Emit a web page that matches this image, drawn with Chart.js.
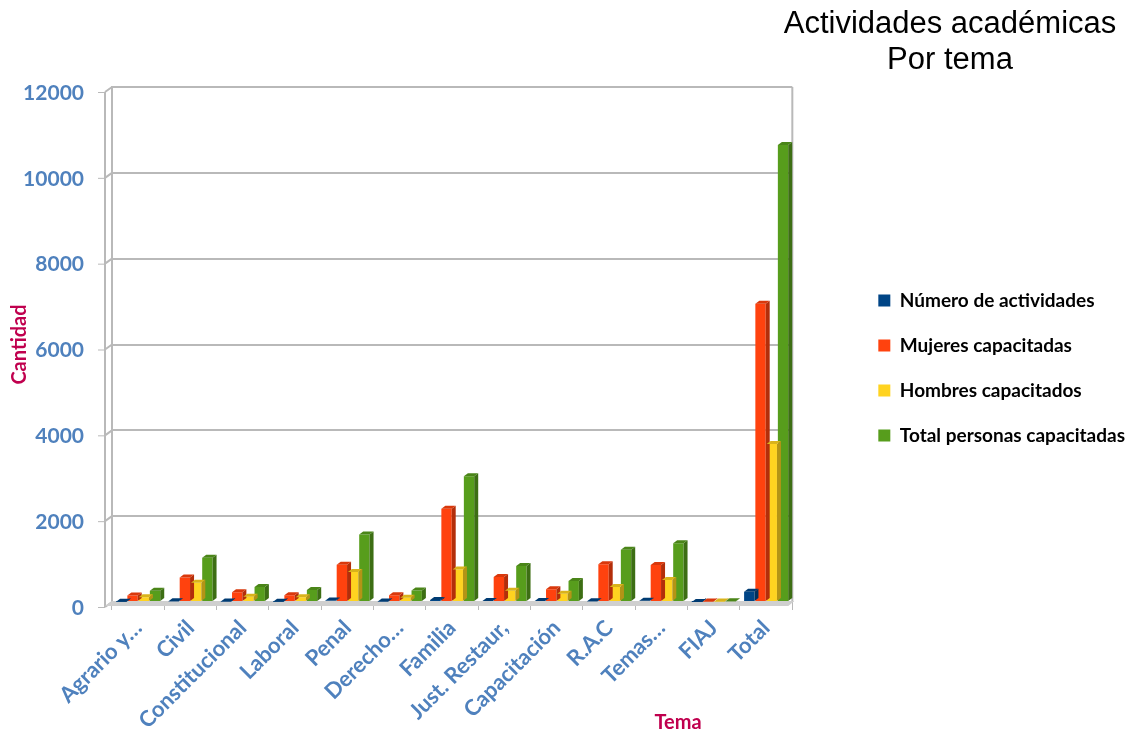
<!doctype html>
<html>
<head>
  <meta charset="utf-8">
  <title>Actividades académicas por tema</title>
  <script src="https://cdn.jsdelivr.net/npm/chart.js@4.4.1/dist/chart.umd.min.js"></script>
  <style>
    body { margin: 0; background: #fff; }
    canvas { display: block; }
  </style>
</head>
<body>
  <canvas id="canvas" width="1135" height="733"></canvas>

  <script>
    // data
    var temas = ['Agrario y…', 'Civil', 'Constitucional', 'Laboral', 'Penal', 'Derecho…', 'Familia',
                 'Just. Restaur,', 'Capacitación', 'R.A.C', 'Temas…', 'FIAJ', 'Total'];
    var actividades = [8, 20, 10, 8, 35, 10, 45, 25, 25, 20, 30, 2, 240];
    var mujeres = [150, 570, 230, 160, 870, 160, 2170, 580, 300, 880, 860, 10, 6950];
    var hombres = [110, 450, 120, 110, 700, 100, 760, 260, 190, 350, 510, 10, 3680];
    var totalPersonas = [260, 1030, 350, 280, 1570, 270, 2930, 840, 490, 1220, 1370, 20, 10650];
    var yTicks = [0, 2000, 4000, 6000, 8000, 10000, 12000];

    var titleLines = ['Actividades académicas', 'Por tema'];
    var xTitle = 'Tema';
    var yTitle = 'Cantidad';

    var tickColor = '#4f81bd';
    var titleColor = '#c0004e';
    var wallColor = '#b9b9b9';

    Chart.defaults.font.family = 'Lato';

    // darker shade for the side of each bar
    function shade(hex, f) {
      var n = parseInt(hex.slice(1), 16);
      var r = Math.round(((n >> 16) & 255) * f), g = Math.round(((n >> 8) & 255) * f), b = Math.round((n & 255) * f);
      return 'rgb(' + r + ',' + g + ',' + b + ')';
    }

    // fake 3d: front edge of the left wall, floor band, right wall, side and top faces of the bars
    var bars3d = {
      id: 'bars3d',
      beforeDatasetsDraw: function(chart) {
        var a = chart.chartArea, ctx = chart.ctx, y = chart.scales.y;
        var fx = a.left - 7, fy = 5;
        ctx.save();
        ctx.strokeStyle = wallColor;
        ctx.lineWidth = 2;
        ctx.beginPath();
        ctx.moveTo(a.right, a.top);
        ctx.lineTo(a.right, a.bottom);
        ctx.moveTo(fx, a.top + fy);
        ctx.lineTo(fx, a.bottom + fy);
        yTicks.forEach(function(v) {
          var py = y.getPixelForValue(v);
          ctx.moveTo(fx, py + fy);
          ctx.lineTo(a.left, py);
        });
        ctx.stroke();
        ctx.lineWidth = 1;
        ctx.beginPath();
        yTicks.forEach(function(v) {
          var py = y.getPixelForValue(v) + fy + 0.5;
          ctx.moveTo(fx - 7, py);
          ctx.lineTo(fx, py);
        });
        ctx.stroke();
        ctx.fillStyle = '#cfcfcf';
        ctx.beginPath();
        ctx.moveTo(fx, a.bottom + 4);
        ctx.lineTo(a.right - 4, a.bottom + 4);
        ctx.lineTo(a.right + 2, a.bottom - 1);
        ctx.lineTo(a.left, a.bottom - 1);
        ctx.closePath();
        ctx.fill();
        ctx.restore();
      },
      afterDatasetsDraw: function(chart) {
        var ctx = chart.ctx, d = 4, dy = 3;
        ctx.save();
        chart.data.datasets.forEach(function(ds, i) {
          var meta = chart.getDatasetMeta(i);
          if (meta.hidden) return;
          meta.data.forEach(function(bar) {
            var p = bar.getProps(['x', 'y', 'base', 'width'], true);
            var l = p.x - p.width / 2, r = p.x + p.width / 2;
            ctx.fillStyle = shade(ds.backgroundColor, 0.7);
            ctx.beginPath();
            ctx.moveTo(r, p.y);
            ctx.lineTo(r + d, p.y - dy);
            ctx.lineTo(r + d, p.base - dy);
            ctx.lineTo(r, p.base);
            ctx.closePath();
            ctx.fill();
            ctx.fillStyle = shade(ds.backgroundColor, 0.85);
            ctx.beginPath();
            ctx.moveTo(l, p.y);
            ctx.lineTo(l + d, p.y - dy);
            ctx.lineTo(r + d, p.y - dy);
            ctx.lineTo(r, p.y);
            ctx.closePath();
            ctx.fill();
          });
        });
        ctx.restore();
      }
    };

    // chart title top right and the x axis title
    var texts = {
      id: 'texts',
      afterDraw: function(chart) {
        var ctx = chart.ctx, a = chart.chartArea;
        ctx.save();
        ctx.fillStyle = '#000';
        ctx.textAlign = 'center';
        ctx.textBaseline = 'alphabetic';
        ctx.font = '31px "Liberation Sans", Arial, sans-serif';
        ctx.fillText(titleLines[0], 950, 33);
        ctx.fillText(titleLines[1], 950, 69);
        ctx.fillStyle = titleColor;
        ctx.font = 'bold 20px Lato';
        ctx.fillText(xTitle, a.left + 566, 729);
        ctx.restore();
      }
    };

    var data = {
      labels: temas,
      datasets: [
        { label: 'Número de actividades', data: actividades, backgroundColor: '#004586' },
        { label: 'Mujeres capacitadas', data: mujeres, backgroundColor: '#ff420e' },
        { label: 'Hombres capacitados', data: hombres, backgroundColor: '#ffd320' },
        { label: 'Total personas capacitadas', data: totalPersonas, backgroundColor: '#579d1c' }
      ]
    };
    data.datasets.forEach(function(ds) {
      ds.borderWidth = 0;
      ds.categoryPercentage = 0.86;
      ds.barPercentage = 0.92;
    });

    var chart = new Chart('canvas', {
      type: 'bar',
      data: data,
      plugins: [bars3d, texts],
      options: {
        responsive: false,
        animation: false,
        layout: { padding: { top: 87, right: 0, left: 0, bottom: 0 } },
        plugins: {
          tooltip: { enabled: false },
          legend: {
            position: 'right',
            fullSize: false,
            align: 'center',
            title: { display: true, text: '', padding: { top: 14, bottom: 14 }, font: { size: 16 } },
            labels: {
              boxWidth: 12,
              boxHeight: 12,
              padding: 26,
              color: '#000',
              font: { size: 19, weight: 'bold' }
            }
          }
        },
        scales: {
          x: {
            grid: { display: true, drawOnChartArea: false, tickLength: 8, color: wallColor, lineWidth: 1 },
            border: { display: false },
            ticks: {
              autoSkip: false, minRotation: 45, maxRotation: 45, padding: 5,
              color: tickColor, font: { size: 22, weight: 'bold' }
            },
            afterFit: function(s) { s.height = 131; }
          },
          y: {
            min: 0,
            max: 12000,
            afterBuildTicks: function(s) { s.ticks = yTicks.map(function(v) { return { value: v }; }); },
            grid: { color: wallColor, lineWidth: 2, drawTicks: false },
            border: { display: true, color: wallColor, width: 2 },
            ticks: {
              color: tickColor, padding: 28, labelOffset: 6, font: { size: 21, weight: 'bold' },
              callback: function(v) { return String(v); }
            },
            title: {
              display: true, text: yTitle, color: titleColor,
              padding: { top: 8, bottom: 0 },
              font: { size: 20, weight: 'bold' }
            },
            afterFit: function(s) { s.width = 112; }
          },
          // hidden axis, only keeps a gap between the plot and the legend
          gap: {
            position: 'right',
            display: false,
            afterFit: function(s) { s.width = 60; }
          }
        }
      }
    });
  </script>
</body>
</html>
